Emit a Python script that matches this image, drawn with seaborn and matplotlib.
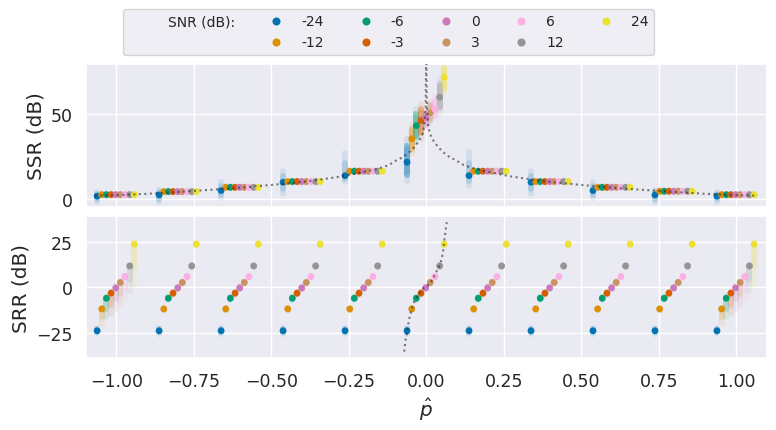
import matplotlib
matplotlib.use("Agg")
import numpy as np
import pandas as pd
import matplotlib.pyplot as plt
from matplotlib.lines import Line2D
import seaborn as sns

# true p of each cluster and the SNR conditions
P_TRUE = [-1.0, -0.8, -0.6, -0.4, -0.2, 0.0, 0.2, 0.4, 0.6, 0.8, 1.0]
SNR_DB = [-24, -12, -6, -3, 0, 3, 6, 12, 24]
# p_hat - p for each SNR
P_HAT_SHIFT = [-0.062, -0.047, -0.032, -0.017, -0.002, 0.013, 0.028, 0.043, 0.058]

# SSR of the clusters for SNR >= -12 dB, per true p (p = 0 handled apart)
SSR_LEVEL = [2.7, 4.5, 7.0, 10.4, 16.5, None, 16.5, 10.4, 7.0, 4.7, 2.7]
# SSR at SNR = -24 dB per true p: centre, low and high end of the smear
SSR_NOISY = [1.8, 2.5, 5.1, 10.0, 13.9, None, 13.9, 10.0, 5.1, 2.5, 1.8]
SSR_NOISY_LO = [-1.5, -1.5, 0.6, 3.1, 10.2, None, 8.0, 3.1, 0.6, -1.5, -1.5]
SSR_NOISY_HI = [4.1, 5.6, 10.0, 16.8, 27.0, None, 27.6, 16.8, 10.0, 5.6, 4.1]
# cluster at p = 0, per SNR
SSR_ZERO = [21.8, 35.5, 43.3, 46.3, 48.2, 51.0, 53.0, 60.0, 71.8]
SSR_ZERO_LO = [11.0, 26.6, 33.6, 35.5, 42.0, 45.0, 47.0, 51.0, 62.0]
SSR_ZERO_HI = [35.4, 44.0, 53.0, 56.0, 52.0, 57.0, 61.0, 71.0, 79.6]

# SRR per SNR, and the low end of the smear at p = +-1
SRR_LEVEL = [-24.0, -12.0, -6.1, -3.3, -0.4, 2.6, 5.8, 11.7, 23.7]
SRR_EDGE_LO = [-25.5, -20.3, -16.6, -14.8, -12.0, -9.3, -6.6, -2.0, 0.7]

# dotted reference curves
SSR_CURVE_L_X = [-1.07, -1.0, -0.9, -0.8, -0.7, -0.6, -0.5, -0.38, -0.27, -0.173,
                 -0.141, -0.12, -0.098, -0.076, -0.055, -0.039, -0.023, -0.012,
                 -0.0065, -0.002, -0.0005]
SSR_CURVE_L_Y = [2.1, 2.4, 3.2, 4.3, 5.5, 6.8, 8.4, 10.6, 13.5, 17.2,
                 18.8, 20.2, 22.7, 24.7, 27.6, 30.6, 34.5, 38.4,
                 43.3, 54.0, 80.0]
SSR_CURVE_R_X = [0.0005, 0.002, 0.0065, 0.012, 0.023, 0.039, 0.055, 0.076, 0.098,
                 0.12, 0.141, 0.173, 0.27, 0.38, 0.5, 0.6, 0.7, 0.8, 0.9, 1.0, 1.07]
SSR_CURVE_R_Y = [80.0, 54.0, 43.3, 38.4, 34.5, 30.6, 27.6, 24.7, 22.7,
                 20.2, 18.8, 17.2, 13.5, 10.6, 8.4, 6.8, 5.5, 4.3, 3.2, 2.4, 2.1]
SRR_CURVE_X = [-0.071, -0.068, -0.063, -0.058, -0.053, -0.047, -0.042, -0.033, -0.020,
               -0.0097, -0.001, 0.0097, 0.021, 0.031, 0.042, 0.05, 0.055, 0.06, 0.066]
SRR_CURVE_Y = [-35.5, -30.3, -25.8, -20.3, -15.7, -12.1, -9.3, -6.2, -2.9,
               -0.7, 0.4, 1.6, 4.4, 8.0, 11.7, 15.4, 20.8, 28.1, 35.8]

X_TICKS = [-1.0, -0.75, -0.5, -0.25, 0.0, 0.25, 0.5, 0.75, 1.0]

# ---- build table ----
rows = []
for i, p in enumerate(P_TRUE):
    for j, snr in enumerate(SNR_DB):
        if p == 0.0:
            ssr, ssr_lo, ssr_hi = SSR_ZERO[j], SSR_ZERO_LO[j], SSR_ZERO_HI[j]
        elif j == 0:
            ssr, ssr_lo, ssr_hi = SSR_NOISY[i], SSR_NOISY_LO[i], SSR_NOISY_HI[i]
        else:
            ssr = SSR_LEVEL[i]
            ssr_lo, ssr_hi = ssr - 0.6, ssr + 0.6
        srr = SRR_LEVEL[j]
        pad = 1.6 if j == 0 else 0.8
        srr_lo = SRR_EDGE_LO[j] if abs(p) == 1.0 else srr - pad
        rows.append(dict(p_hat=p + P_HAT_SHIFT[j], p=p, SNR=snr,
                         SSR=ssr, SSR_lo=ssr_lo, SSR_hi=ssr_hi,
                         SRR=srr, SRR_lo=srr_lo, SRR_hi=srr + pad))
df = pd.DataFrame(rows)

sns.set_theme(style="darkgrid")
palette = sns.color_palette("colorblind", len(SNR_DB))
colors = dict(zip(SNR_DB, palette))

fig = plt.figure(figsize=(7.76, 4.31), dpi=100)
ax1 = fig.add_axes([0.1108, 0.5181, 0.877, 0.3311])
ax2 = fig.add_axes([0.1108, 0.1663, 0.877, 0.3309], sharex=ax1)

for ax, col in [(ax1, "SSR"), (ax2, "SRR")]:
    # faint vertical smear of the estimates, denser near the centre
    for snr in SNR_DB:
        sub = df[df.SNR == snr]
        lo, hi, mid = sub[col + "_lo"], sub[col + "_hi"], sub[col]
        ax.vlines(sub.p_hat, lo, hi, color=colors[snr],
                  lw=4.2, alpha=0.10, capstyle="round", zorder=2)
        ax.vlines(sub.p_hat, mid - (mid - lo) * 0.55, mid + (hi - mid) * 0.55,
                  color=colors[snr], lw=4.2, alpha=0.18, capstyle="round", zorder=2)
    sns.scatterplot(data=df, x="p_hat", y=col, hue="SNR", hue_order=SNR_DB,
                    palette=palette, s=24, linewidth=0, legend=False, ax=ax, zorder=3)

# the p = 0 cluster of SSR is a dense column
zero = df[df.p == 0.0]
for snr in SNR_DB:
    r = zero[zero.SNR == snr]
    ax1.vlines(r.p_hat, r.SSR - (r.SSR - r.SSR_lo) * 0.7, r.SSR + (r.SSR_hi - r.SSR) * 0.7,
               color=colors[snr], lw=4.4, alpha=0.35, capstyle="round", zorder=2)

line_kw = dict(color="0.15", alpha=0.6, lw=1.5, linestyle=":", zorder=4)
sns.lineplot(x=SSR_CURVE_L_X, y=SSR_CURVE_L_Y, sort=False, estimator=None, ax=ax1, **line_kw)
sns.lineplot(x=SSR_CURVE_R_X, y=SSR_CURVE_R_Y, sort=False, estimator=None, ax=ax1, **line_kw)
sns.lineplot(x=SRR_CURVE_X, y=SRR_CURVE_Y, sort=False, estimator=None, ax=ax2, **line_kw)

ax1.set_xlim(-1.098, 1.098)
ax1.set_ylim(-4.4, 79.6)
ax2.set_ylim(-39.2, 39.4)
ax2.set_xticks(X_TICKS)
ax1.set_yticks([0, 50])
ax2.set_yticks([-25, 0, 25])
plt.setp(ax1.get_xticklabels(), visible=False)
ax1.set_xlabel("")
ax1.set_ylabel("SSR (dB)", fontsize=14.4)
ax2.set_ylabel("SRR (dB)", fontsize=14.4)
ax2.set_xlabel(r"$\hat{p}$", fontsize=14.4)
for ax in (ax1, ax2):
    ax.tick_params(labelsize=12.5)
fig.align_ylabels([ax1, ax2])

# legend with a text-only first column
blank = Line2D([], [], linestyle="none", marker=None)
handles = [blank, blank] + [
    Line2D([], [], linestyle="none", marker="o", ms=5.8, mfc=colors[s], mec="none")
    for s in SNR_DB]
labels = ["SNR (dB):", ""] + [str(s) for s in SNR_DB]
fig.legend(handles, labels, loc="upper center", bbox_to_anchor=(0.5007, 0.977),
           ncol=6, fontsize=10, borderaxespad=0, frameon=True)

fig.savefig("out.png", dpi=100)
